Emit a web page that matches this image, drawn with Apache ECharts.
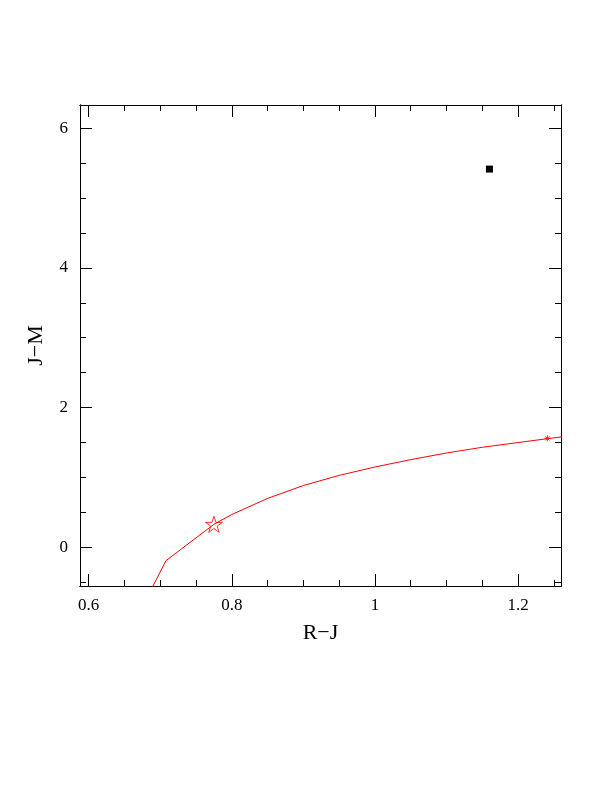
<!DOCTYPE html>
<html>
<head>
<meta charset="utf-8">
<script src="https://cdn.jsdelivr.net/npm/echarts@6/dist/echarts.min.js"></script>
<style>
html,body{margin:0;padding:0;background:#fff;}
#c{width:612px;height:792px;}
</style>
</head>
<body>
<div id="c"></div>
<script>
// ---- data ----
const xName = 'R\u2212J';
const yName = 'J\u2212M';
const xRange = [0.5878, 1.26];
const yRange = [-0.553, 6.33];
const xMajorTicks = [0.6, 0.8, 1.0, 1.2];
const xMinorTicks = [0.6, 0.65, 0.7, 0.75, 0.8, 0.85, 0.9, 0.95, 1.0, 1.05, 1.1, 1.15, 1.2, 1.25];
const yMajorTicks = [0, 2, 4, 6];
const yMinorTicks = [-0.5, 0, 0.5, 1, 1.5, 2, 2.5, 3, 3.5, 4, 4.5, 5, 5.5, 6];
// model track (red line)
const trackX = [0.685, 0.708, 0.775, 0.800, 0.850, 0.900, 0.950, 1.000, 1.050, 1.100, 1.150, 1.200, 1.241, 1.275];
const trackY = [-0.65, -0.19, 0.33, 0.47, 0.70, 0.885, 1.03, 1.15, 1.255, 1.35, 1.432, 1.50, 1.555, 1.60];
// markers
const starPoint = [0.775, 0.33];
const asteriskPoint = [1.241, 1.56];
const observedPoint = [1.160, 5.413];

const FONT = '"Liberation Serif", "DejaVu Serif", serif';
const chart = echarts.init(document.getElementById('c'), null, {renderer: 'canvas'});

function xAxisDef(position, ticks, len, labels, named) {
  return {
    type: 'value', position: position, min: xRange[0], max: xRange[1],
    splitLine: {show: false},
    axisLine: {show: true, onZero: false, lineStyle: {color: '#000', width: 1}},
    axisTick: {show: true, inside: true, length: len, customValues: ticks, lineStyle: {color: '#000', width: 1}},
    axisLabel: labels ? {show: true, customValues: xMajorTicks, margin: 11, color: '#000', fontFamily: FONT, fontSize: 17,
      formatter: v => String(Math.round(v * 10) / 10)} : {show: false},
    name: named ? xName : '', nameLocation: 'middle', nameGap: 36,
    nameTextStyle: {color: '#000', fontFamily: FONT, fontSize: 22}
  };
}
function yAxisDef(position, ticks, len, labels, named) {
  return {
    type: 'value', position: position, min: yRange[0], max: yRange[1],
    splitLine: {show: false},
    axisLine: {show: true, onZero: false, lineStyle: {color: '#000', width: 1}},
    axisTick: {show: true, inside: true, length: len, customValues: ticks, lineStyle: {color: '#000', width: 1}},
    axisLabel: labels ? {show: true, customValues: yMajorTicks, margin: 12, color: '#000', fontFamily: FONT, fontSize: 17,
      formatter: v => String(Math.round(v))} : {show: false},
    name: named ? yName : '', nameLocation: 'middle', nameGap: 33, nameRotate: 90,
    nameTextStyle: {color: '#000', fontFamily: FONT, fontSize: 22}
  };
}

const starPath = 'path://M0,-10L2.245,-3.09L9.51,-3.09L3.633,1.18L5.88,8.09L0,3.82L-5.88,8.09L-3.633,1.18L-9.51,-3.09L-2.245,-3.09Z';
const asteriskPath = 'path://M0,5L10,5M5,0L5,10M1.5,1.5L8.5,8.5M8.5,1.5L1.5,8.5';

chart.setOption({
  backgroundColor: '#fff',
  animation: false,
  grid: {left: 80, top: 105, width: 481, height: 481, containLabel: false},
  xAxis: [
    xAxisDef('bottom', xMajorTicks, 12, true, true),
    xAxisDef('bottom', xMinorTicks, 6, false, false),
    xAxisDef('top', xMajorTicks, 12, false, false),
    xAxisDef('top', xMinorTicks, 6, false, false)
  ],
  yAxis: [
    yAxisDef('left', yMajorTicks, 12, true, true),
    yAxisDef('left', yMinorTicks, 6, false, false),
    yAxisDef('right', yMajorTicks, 12, false, false),
    yAxisDef('right', yMinorTicks, 6, false, false)
  ],
  series: [
    {
      type: 'line', xAxisIndex: 0, yAxisIndex: 0,
      data: trackX.map((x, i) => [x, trackY[i]]),
      showSymbol: false, symbol: 'none', clip: true,
      lineStyle: {color: '#ff0000', width: 1}
    },
    {
      type: 'scatter', xAxisIndex: 0, yAxisIndex: 0,
      data: [starPoint], symbol: starPath, symbolSize: 17, symbolKeepAspect: true,
      itemStyle: {color: 'rgba(0,0,0,0)', borderColor: '#ff0000', borderWidth: 1}
    },
    {
      type: 'scatter', xAxisIndex: 0, yAxisIndex: 0,
      data: [asteriskPoint], symbol: asteriskPath, symbolSize: 6,
      itemStyle: {color: 'rgba(0,0,0,0)', borderColor: '#ff0000', borderWidth: 1}
    },
    {
      type: 'scatter', xAxisIndex: 0, yAxisIndex: 0,
      data: [observedPoint], symbol: 'rect', symbolSize: 7,
      itemStyle: {color: '#000', opacity: 1}
    }
  ]
});
</script>
</body>
</html>
